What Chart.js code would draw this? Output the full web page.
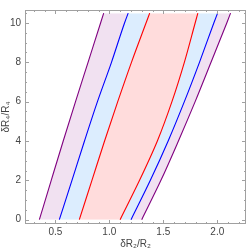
<!DOCTYPE html>
<html>
<head>
<meta charset="utf-8">
<script src="https://cdn.jsdelivr.net/npm/chart.js@4/dist/chart.umd.min.js"></script>
<style>
  html, body { margin: 0; padding: 0; background: #fff; }
  #wrap { width: 249px; height: 250px; }
</style>
</head>
<body>
<div id="wrap"><canvas id="GraphBand"></canvas></div>
<script>
// dR4/R4 values where each curve was read
var yLevels = [0, 2, 4, 6, 8, 10, 10.5];
// dR2/R2 of each boundary curve at those levels
var purpleLeft  = [0.352, 0.462, 0.573, 0.687, 0.803, 0.919, 0.948];
var blueLeft    = [0.537, 0.654, 0.770, 0.890, 1.020, 1.141, 1.175];
var redLeft     = [0.722, 0.839, 0.956, 1.078, 1.205, 1.340, 1.374];
var redRight    = [1.100, 1.280, 1.445, 1.580, 1.695, 1.795, 1.820];
var blueRight   = [1.201, 1.380, 1.545, 1.695, 1.835, 1.968, 2.003];
var purpleRight = [1.300, 1.478, 1.640, 1.795, 1.942, 2.088, 2.123];

var xTicks = [0.5, 1.0, 1.5, 2.0];
var yTicks = [0, 2, 4, 6, 8, 10];
var xMinor = [0.3, 0.4, 0.6, 0.7, 0.8, 0.9, 1.1, 1.2, 1.3, 1.4, 1.6, 1.7, 1.8, 1.9, 2.1, 2.2];
var yMinor = [0.5, 1, 1.5, 2.5, 3, 3.5, 4.5, 5, 5.5, 6.5, 7, 7.5, 8.5, 9, 9.5, 10.5];

var PURPLE = "#800080", BLUE = "#0000ff", RED = "#ff0000";
var LAVENDER = "#f1e1f1", SKY = "#dcedfe", PINK = "#ffdcdc";

function pts(xs){
    return xs.map(function(x, i){ return {x: x, y: yLevels[i]}; });
}
function curve(xs, color, fillColor){
    return {
        data: pts(xs),
        borderColor: color,
        borderWidth: 1.1,
        pointRadius: 0,
        cubicInterpolationMode: 'monotone',
        fill: fillColor ? '+1' : false,
        backgroundColor: fillColor || 'transparent'
    };
}

// frame with inward ticks, Mathematica style
var frameTicks = {
    id: 'frameTicks',
    afterDraw: function(chart){
        var ctx = chart.ctx, a = chart.chartArea;
        var sx = chart.scales.x, sy = chart.scales.y;
        ctx.save();
        ctx.strokeStyle = "#a0a0a0";
        ctx.lineWidth = 1;
        ctx.strokeRect(a.left + 0.5, a.top + 0.5, a.right - a.left - 1, a.bottom - a.top - 1);
        function xt(v, len){
            var px = Math.round(sx.getPixelForValue(v)) + 0.5;
            ctx.beginPath();
            ctx.moveTo(px, a.bottom); ctx.lineTo(px, a.bottom - len);
            ctx.moveTo(px, a.top); ctx.lineTo(px, a.top + len);
            ctx.stroke();
        }
        function yt(v, len){
            var py = Math.round(sy.getPixelForValue(v)) + 0.5;
            ctx.beginPath();
            ctx.moveTo(a.left, py); ctx.lineTo(a.left + len, py);
            ctx.moveTo(a.right, py); ctx.lineTo(a.right - len, py);
            ctx.stroke();
        }
        xTicks.forEach(function(v){ xt(v, 4); });
        xMinor.forEach(function(v){ xt(v, 2); });
        yTicks.forEach(function(v){ yt(v, 4); });
        yMinor.forEach(function(v){ yt(v, 2); });
        ctx.restore();
    }
};

var ctx = document.getElementById("GraphBand");
var BandChart = new Chart(ctx, {
    type: 'line',
    data: {
        datasets: [
            curve(purpleLeft, PURPLE, LAVENDER),
            curve(blueLeft, BLUE, SKY),
            curve(redLeft, RED, PINK),
            curve(redRight, RED, SKY),
            curve(blueRight, BLUE, LAVENDER),
            curve(purpleRight, PURPLE, null)
        ]
    },
    options: {
        indexAxis: 'y',
        responsive: true,
        maintainAspectRatio: false,
        animation: false,
        layout: { padding: { top: 1, right: 3, left: 0, bottom: 0 } },
        plugins: {
            legend: { display: false },
            tooltip: { enabled: false },
            filler: { propagate: false, drawTime: 'beforeDatasetsDraw' }
        },
        scales: {
            x: {
                type: 'linear',
                position: 'bottom',
                min: 0.219,
                max: 2.266,
                grid: { display: false, drawTicks: false },
                border: { display: false },
                afterBuildTicks: function(s){ s.ticks = xTicks.map(function(v){ return {value: v}; }); },
                afterFit: function(s){ s.height = 26; },
                ticks: {
                    padding: 2,
                    color: "#444",
                    font: { family: "'Liberation Sans', Arial, sans-serif", size: 10 },
                    maxRotation: 0,
                    callback: function(v){ return Number(v).toFixed(1); }
                },
                title: {
                    display: true,
                    text: "δR₂/R₂",
                    color: "#444",
                    padding: 0,
                    font: { family: "'Liberation Sans', Arial, sans-serif", size: 10 }
                }
            },
            y: {
                type: 'linear',
                position: 'left',
                min: -0.22,
                max: 10.66,
                grid: { display: false, drawTicks: false },
                border: { display: false },
                afterBuildTicks: function(s){ s.ticks = yTicks.map(function(v){ return {value: v}; }); },
                afterFit: function(s){ s.width = 25; },
                ticks: {
                    padding: 4,
                    color: "#444",
                    font: { family: "'Liberation Sans', Arial, sans-serif", size: 10 },
                    callback: function(v){ return String(v); }
                },
                title: {
                    display: true,
                    text: "δR₄/R₄",
                    color: "#444",
                    padding: 0,
                    font: { family: "'Liberation Sans', Arial, sans-serif", size: 10 }
                }
            }
        }
    },
    plugins: [frameTicks]
});
</script>
</body>
</html>
